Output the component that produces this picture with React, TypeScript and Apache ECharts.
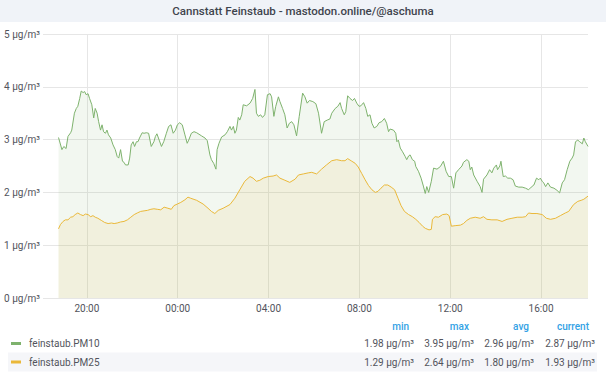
import { useEffect, useRef } from "react";
import * as echarts from "echarts";

const chartTitle = "Cannstatt Feinstaub - mastodon.online/@aschuma";
const unit = "μg/m³";

// time window shown on the x axis (24 h)
const rangeStart = "18:04";
const rangeEnd = "18:04";
const xTickHours = [20, 24, 28, 32, 36, 40];

const pm10Times = [
  "18:45", "18:54", "18:59", "19:05", "19:10", "19:17", "19:20", "19:27", "19:32", "19:36",
  "19:41", "19:45", "19:50", "19:54", "19:58", "20:03", "20:07", "20:13", "20:18", "20:22",
  "20:27", "20:31", "20:36", "20:40", "20:44", "20:49", "20:53", "20:57", "21:03", "21:09",
  "21:15", "21:20", "21:24", "21:29", "21:34", "21:38", "21:42", "21:49", "21:53", "21:57",
  "22:02", "22:06", "22:11", "22:15", "22:19", "22:26", "22:31", "22:37", "22:43", "22:50",
  "22:57", "23:01", "23:05", "23:11", "23:17", "23:23", "23:30", "23:36", "23:42", "23:48",
  "23:54", "23:59", "00:05", "00:12", "00:19", "00:25", "00:29", "00:36", "00:43", "00:50",
  "01:03", "01:12", "01:18", "01:25", "01:29", "01:35", "01:41", "01:44", "01:49", "01:56",
  "02:05", "02:11", "02:18", "02:22", "02:27", "02:31", "02:35", "02:40", "02:44", "02:49",
  "02:53", "03:02", "03:11", "03:18", "03:24", "03:28", "03:33", "03:39", "03:44", "03:50",
  "03:57", "04:04", "04:08", "04:14", "04:19", "04:26", "04:30", "04:37", "04:43", "04:49",
  "04:55", "05:01", "05:07", "05:14", "05:21", "05:30", "05:36", "05:42", "05:48", "05:57",
  "06:05", "06:12", "06:20", "06:27", "06:35", "06:42", "06:47", "06:56", "07:03", "07:09",
  "07:13", "07:20", "07:24", "07:29", "07:35", "07:42", "07:47", "07:53", "07:59", "08:04",
  "08:11", "08:17", "08:22", "08:28", "08:33", "08:39", "08:46", "08:52", "08:59", "09:06",
  "09:12", "09:17", "09:21", "09:30", "09:36", "09:39", "09:43", "09:48", "09:54", "10:01",
  "10:05", "10:10", "10:14", "10:20", "10:26", "10:29", "10:36", "10:43", "10:49", "10:54",
  "10:58", "11:03", "11:10", "11:16", "11:25", "11:34", "11:42", "11:49", "11:56", "12:03",
  "12:09", "12:15", "12:22", "12:31", "12:35", "12:44", "12:49", "12:53", "12:57", "13:02",
  "13:11", "13:19", "13:24", "13:28", "13:37", "13:44", "13:50", "13:55", "14:02", "14:05",
  "14:11", "14:14", "14:20", "14:26", "14:32", "14:39", "14:46", "14:52", "15:01", "15:10",
  "15:19", "15:27", "15:34", "15:41", "15:48", "15:54", "15:58", "16:03", "16:07", "16:12",
  "16:18", "16:25", "16:34", "16:42", "16:49", "16:56", "17:02", "17:09", "17:16", "17:22",
  "17:26", "17:31", "17:37", "17:42", "17:49", "17:53", "17:57", "18:04",
];
const pm10Values = [
  3.04, 2.81, 2.87, 2.83, 3.06, 3.13, 3.18, 3.5, 3.59, 3.63,
  3.78, 3.92, 3.89, 3.91, 3.85, 3.87, 3.78, 3.66, 3.41, 3.59,
  3.5, 3.34, 3.18, 3.28, 3.15, 3.12, 3.18, 3.09, 3.03, 2.9,
  2.81, 2.68, 2.65, 2.81, 2.59, 2.57, 2.52, 2.52, 2.65, 2.9,
  2.96, 2.87, 2.96, 2.96, 3.03, 3.13, 3.12, 3.13, 3.12, 2.87,
  2.96, 3.06, 3.11, 2.99, 2.87, 2.96, 3.12, 3.25, 3.28, 3.12,
  3.18, 3.28, 3.32, 3.28, 3.09, 2.93, 2.99, 3.12, 3.15, 3.13,
  3.07, 3.03, 2.98, 2.71, 2.62, 2.55, 2.44, 2.81, 2.93, 3.05,
  3.09, 3.15, 3.25, 3.18, 3.25, 3.12, 3.18, 3.42, 3.37, 3.47,
  3.66, 3.64, 3.69, 3.78, 3.95, 3.5, 3.44, 3.47, 3.42, 3.47,
  3.85, 3.87, 3.81, 3.44, 3.63, 3.81, 3.72, 3.59, 3.47, 3.22,
  3.31, 3.34, 3.28, 3.07, 3.44, 3.88, 3.81, 3.69, 3.74, 3.72,
  3.68, 3.5, 3.12, 3.34, 3.37, 3.39, 3.5, 3.59, 3.63, 3.7,
  3.59, 3.47, 3.53, 3.83, 3.78, 3.74, 3.78, 3.69, 3.63, 3.64,
  3.7, 3.59, 3.44, 3.47, 3.31, 3.22, 3.25, 3.32, 3.34, 3.4,
  3.31, 3.15, 3.2, 3.18, 3.12, 2.96, 2.99, 2.84, 2.77, 2.68,
  2.62, 2.69, 2.71, 2.62, 2.59, 2.49, 2.4, 2.27, 2.12, 1.98,
  2.11, 2.0, 2.21, 2.46, 2.44, 2.49, 2.59, 2.4, 2.3, 2.3,
  2.08, 2.37, 2.43, 2.5, 2.57, 2.62, 2.59, 2.43, 2.48, 2.33,
  2.21, 2.11, 2.0, 2.25, 2.33, 2.43, 2.37, 2.46, 2.52, 2.43,
  2.5, 2.59, 2.3, 2.31, 2.27, 2.27, 2.24, 2.12, 2.1, 2.1,
  2.08, 2.05, 2.1, 2.14, 2.27, 2.24, 2.27, 2.21, 2.18, 2.11,
  2.18, 2.1, 2.08, 2.04, 1.99, 2.18, 2.24, 2.43, 2.59, 2.65,
  2.71, 2.96, 2.99, 2.96, 2.92, 3.03, 2.96, 2.87,
];

const pm25Times = [
  "18:45", "18:50", "18:57", "19:03", "19:10", "19:17", "19:23", "19:29", "19:36", "19:43",
  "19:50", "19:56", "20:03", "20:10", "20:16", "20:22", "20:29", "20:38", "20:47", "20:56",
  "21:05", "21:12", "21:20", "21:29", "21:38", "21:47", "21:56", "22:05", "22:13", "22:22",
  "22:31", "22:40", "22:49", "22:57", "23:06", "23:15", "23:24", "23:34", "23:43", "23:50",
  "23:59", "00:08", "00:19", "00:27", "00:34", "00:50", "01:07", "01:20", "01:29", "01:38",
  "01:47", "02:00", "02:18", "02:31", "02:44", "02:57", "03:11", "03:19", "03:28", "03:37",
  "03:46", "03:59", "04:12", "04:21", "04:30", "04:43", "04:56", "05:10", "05:19", "05:32",
  "05:45", "05:54", "06:07", "06:20", "06:33", "06:47", "07:00", "07:13", "07:22", "07:29",
  "07:40", "07:49", "07:57", "08:06", "08:15", "08:24", "08:33", "08:42", "08:49", "08:57",
  "09:06", "09:15", "09:24", "09:33", "09:42", "09:50", "09:59", "10:10", "10:20", "10:29",
  "10:38", "10:47", "10:54", "11:04", "11:10", "11:13", "11:20", "11:29", "11:40", "11:51",
  "11:57", "12:03", "12:13", "12:27", "12:35", "12:44", "12:53", "13:06", "13:19", "13:28",
  "13:37", "13:50", "14:04", "14:17", "14:30", "14:43", "14:57", "15:10", "15:19", "15:27",
  "15:36", "15:49", "16:03", "16:14", "16:25", "16:38", "16:51", "17:04", "17:13", "17:26",
  "17:37", "17:46", "17:53", "18:04",
];
const pm25Values = [
  1.31, 1.39, 1.45, 1.48, 1.48, 1.53, 1.54, 1.58, 1.61, 1.58,
  1.56, 1.59, 1.58, 1.54, 1.56, 1.53, 1.51, 1.47, 1.43, 1.41,
  1.42, 1.41, 1.42, 1.44, 1.45, 1.48, 1.53, 1.58, 1.61, 1.64,
  1.65, 1.66, 1.68, 1.69, 1.68, 1.67, 1.72, 1.7, 1.68, 1.75,
  1.78, 1.81, 1.86, 1.91, 1.89, 1.85, 1.78, 1.7, 1.64, 1.6,
  1.66, 1.7, 1.77, 1.89, 2.05, 2.21, 2.3, 2.27, 2.21, 2.23,
  2.27, 2.3, 2.31, 2.33, 2.27, 2.23, 2.19, 2.25, 2.33, 2.35,
  2.37, 2.38, 2.35, 2.44, 2.52, 2.6, 2.62, 2.6, 2.6, 2.64,
  2.59, 2.55, 2.48, 2.36, 2.24, 2.13, 2.05, 2.0, 2.02, 2.08,
  2.14, 2.14, 2.1, 2.05, 1.89, 1.75, 1.64, 1.58, 1.54, 1.49,
  1.43, 1.36, 1.32, 1.29, 1.3, 1.49, 1.54, 1.53, 1.58, 1.59,
  1.56, 1.36, 1.37, 1.38, 1.41, 1.47, 1.51, 1.53, 1.51, 1.54,
  1.49, 1.48, 1.48, 1.45, 1.49, 1.51, 1.53, 1.53, 1.54, 1.61,
  1.6, 1.6, 1.58, 1.51, 1.49, 1.51, 1.56, 1.61, 1.64, 1.77,
  1.83, 1.85, 1.87, 1.93,
];

const seriesNames = ["feinstaub.PM10", "feinstaub.PM25"];
const seriesColors = ["#7eb26d", "#eab839"];
const statHeaders = ["min", "max", "avg", "current"];
const pm10Stats = [1.98, 3.95, 2.96, 2.87];
const pm25Stats = [1.29, 2.64, 1.8, 1.93];

const FONT = "Roboto, 'Noto Sans', sans-serif";

function toHour(t: string, wrap = true): number {
  const [h, m] = t.split(":").map(Number);
  let v = h + m / 60;
  if (wrap && v < 18.5) v += 24;
  return v;
}

function pad2(n: number): string {
  return (n < 10 ? "0" : "") + n;
}

export default function App() {
  const ref = useRef<HTMLDivElement>(null);

  useEffect(() => {
    if (!ref.current) return;
    const chart = echarts.init(ref.current, null, { renderer: "svg" });

    const pm10Data = pm10Times.map((t, i) => [toHour(t), pm10Values[i]]);
    const pm25Data = pm25Times.map((t, i) => [toHour(t), pm25Values[i]]);

    const xMin = toHour(rangeStart, false);
    const xMax = toHour(rangeEnd, false) + 24;

    const rowY = [343.5, 362];
    const valueRight = [414, 474, 534, 595];
    const headerRight = [409, 469, 529, 589];
    const statsRows = [pm10Stats, pm25Stats];

    const graphics: any[] = [
      {
        type: "rect",
        z: -10,
        shape: { x: 0, y: 0, width: 606, height: 22 },
        style: { fill: "#f0f3f8" },
        silent: true,
      },
      {
        type: "text",
        x: 303,
        y: 11,
        style: {
          text: chartTitle,
          fill: "#3f444d",
          font: `500 11.5px ${FONT}`,
          textAlign: "center",
          textVerticalAlign: "middle",
        },
      },
      {
        type: "rect",
        z: -10,
        shape: { x: 8, y: 352.5, width: 589, height: 19 },
        style: { fill: "#f5f6f9" },
        silent: true,
      },
    ];

    statHeaders.forEach((h, i) => {
      graphics.push({
        type: "text",
        x: headerRight[i],
        y: 326,
        style: {
          text: h,
          fill: "#33a2e5",
          font: `500 10px ${FONT}`,
          textAlign: "right",
          textVerticalAlign: "middle",
        },
      });
    });

    seriesNames.forEach((name, r) => {
      graphics.push({
        type: "rect",
        shape: { x: 11, y: rowY[r] - 1.5, width: 10, height: 3 },
        style: { fill: seriesColors[r] },
      });
      graphics.push({
        type: "text",
        x: 29,
        y: rowY[r],
        style: {
          text: name,
          fill: "#52545c",
          font: `10px ${FONT}`,
          textAlign: "left",
          textVerticalAlign: "middle",
        },
      });
      statsRows[r].forEach((v, i) => {
        graphics.push({
          type: "text",
          x: valueRight[i],
          y: rowY[r],
          style: {
            text: `${v.toFixed(2)} ${unit}`,
            fill: "#52545c",
            font: `10px ${FONT}`,
            textAlign: "right",
            textVerticalAlign: "middle",
          },
        });
      });
    });

    chart.setOption({
      animation: false,
      backgroundColor: "#ffffff",
      textStyle: { fontFamily: FONT },
      grid: { left: 43, right: 18, top: 34, bottom: 81, containLabel: false },
      xAxis: {
        type: "value",
        min: xMin,
        max: xMax,
        axisLine: { show: false },
        axisTick: { show: false, customValues: xTickHours },
        axisLabel: {
          customValues: xTickHours,
          formatter: (v: number) => `${pad2(Math.round(v) % 24)}:00`,
          color: "#52545c",
          fontSize: 10,
          fontFamily: FONT,
          margin: 5,
        },
        splitLine: { show: true, lineStyle: { color: "#e6e6e6", width: 1 } },
      },
      yAxis: {
        type: "value",
        min: 0,
        max: 5,
        interval: 1,
        axisLine: { show: false },
        axisTick: { show: false },
        axisLabel: {
          formatter: (v: number) => `${v} ${unit}`,
          color: "#52545c",
          fontSize: 10,
          fontFamily: FONT,
          margin: 3,
        },
        splitLine: { show: true, lineStyle: { color: "#e6e6e6", width: 1 } },
      },
      series: [
        {
          name: seriesNames[0],
          type: "line",
          data: pm10Data,
          showSymbol: false,
          symbol: "none",
          lineStyle: { width: 1, color: seriesColors[0] },
          itemStyle: { color: seriesColors[0] },
          areaStyle: { color: seriesColors[0], opacity: 0.1 },
        },
        {
          name: seriesNames[1],
          type: "line",
          data: pm25Data,
          showSymbol: false,
          symbol: "none",
          lineStyle: { width: 1, color: seriesColors[1] },
          itemStyle: { color: seriesColors[1] },
          areaStyle: { color: seriesColors[1], opacity: 0.1 },
        },
      ],
      graphic: { elements: graphics },
    });

    return () => chart.dispose();
  }, []);

  return (
    <div
      ref={ref}
      style={{ position: "fixed", left: 0, top: 0, width: 606, height: 379, background: "#fff" }}
    />
  );
}
